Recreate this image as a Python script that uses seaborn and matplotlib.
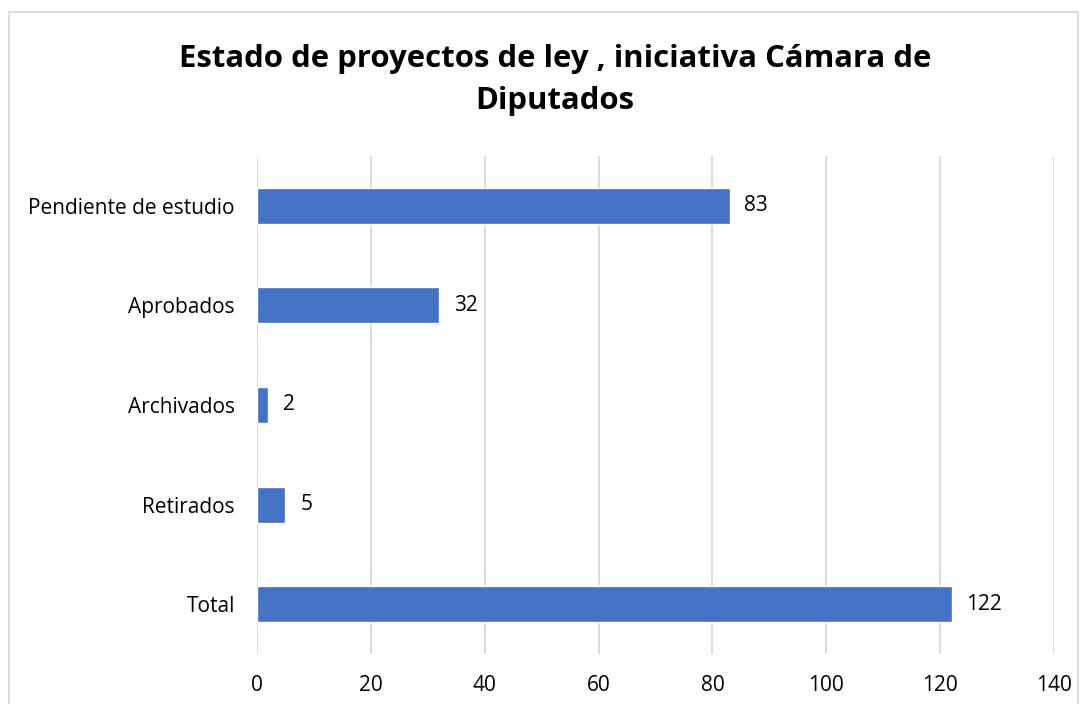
import matplotlib as mpl
from matplotlib import pyplot as plt
from matplotlib.patches import Rectangle
import seaborn as sns
import pandas as pd

categories = ["Pendiente de estudio", "Aprobados", "Archivados", "Retirados", "Total"]
values = [83, 32, 2, 5, 122]
xticks = [0, 20, 40, 60, 80, 100, 120, 140]

df = pd.DataFrame({"Estado": categories, "Cantidad": values})

sns.set_theme(style="white")
plt.rcParams['font.family'] = ['Open Sans', 'DejaVu Sans']

fig = plt.figure(figsize=(10.89, 7.04), dpi=100)
ax = fig.add_axes([257/1089, 1-654/704, (1054-257)/1089, (654-156)/704])

sns.barplot(data=df, x="Cantidad", y="Estado", color="#4472C4", width=0.36,
            saturation=1, ax=ax, order=categories)

for i, v in enumerate(values):
    ax.text(v + 2.6, i, str(v), va="center", ha="left", fontsize=15, color="#000000")

ax.set_xlim(0, 140)
ax.set_xticks(xticks)
ax.set_xticklabels([str(t) for t in xticks], fontsize=15)
ax.tick_params(axis="y", labelsize=15, length=0, pad=16, labelcolor="#000000")
ax.tick_params(axis="x", length=0, pad=15, labelcolor="#000000")
ax.xaxis.grid(True, color="#D9D9D9", linewidth=1.3)
ax.set_axisbelow(True)
for s in ax.spines.values():
    s.set_visible(False)
ax.set_xlabel("")
ax.set_ylabel("")

fig.text(555/1089, 1-80/704, "Estado de proyectos de ley , iniciativa Cámara de\nDiputados",
         ha="center", va="center", fontsize=22.4, fontweight="bold", linespacing=1.55,
         color="#000000")

fig.patches.append(Rectangle((9/1089, -0.05), (1078-9)/1089, 1.05 - 12/704,
                             transform=fig.transFigure, fill=False,
                             edgecolor="#D9D9D9", linewidth=1.3))

fig.savefig("out.png", dpi=100)
